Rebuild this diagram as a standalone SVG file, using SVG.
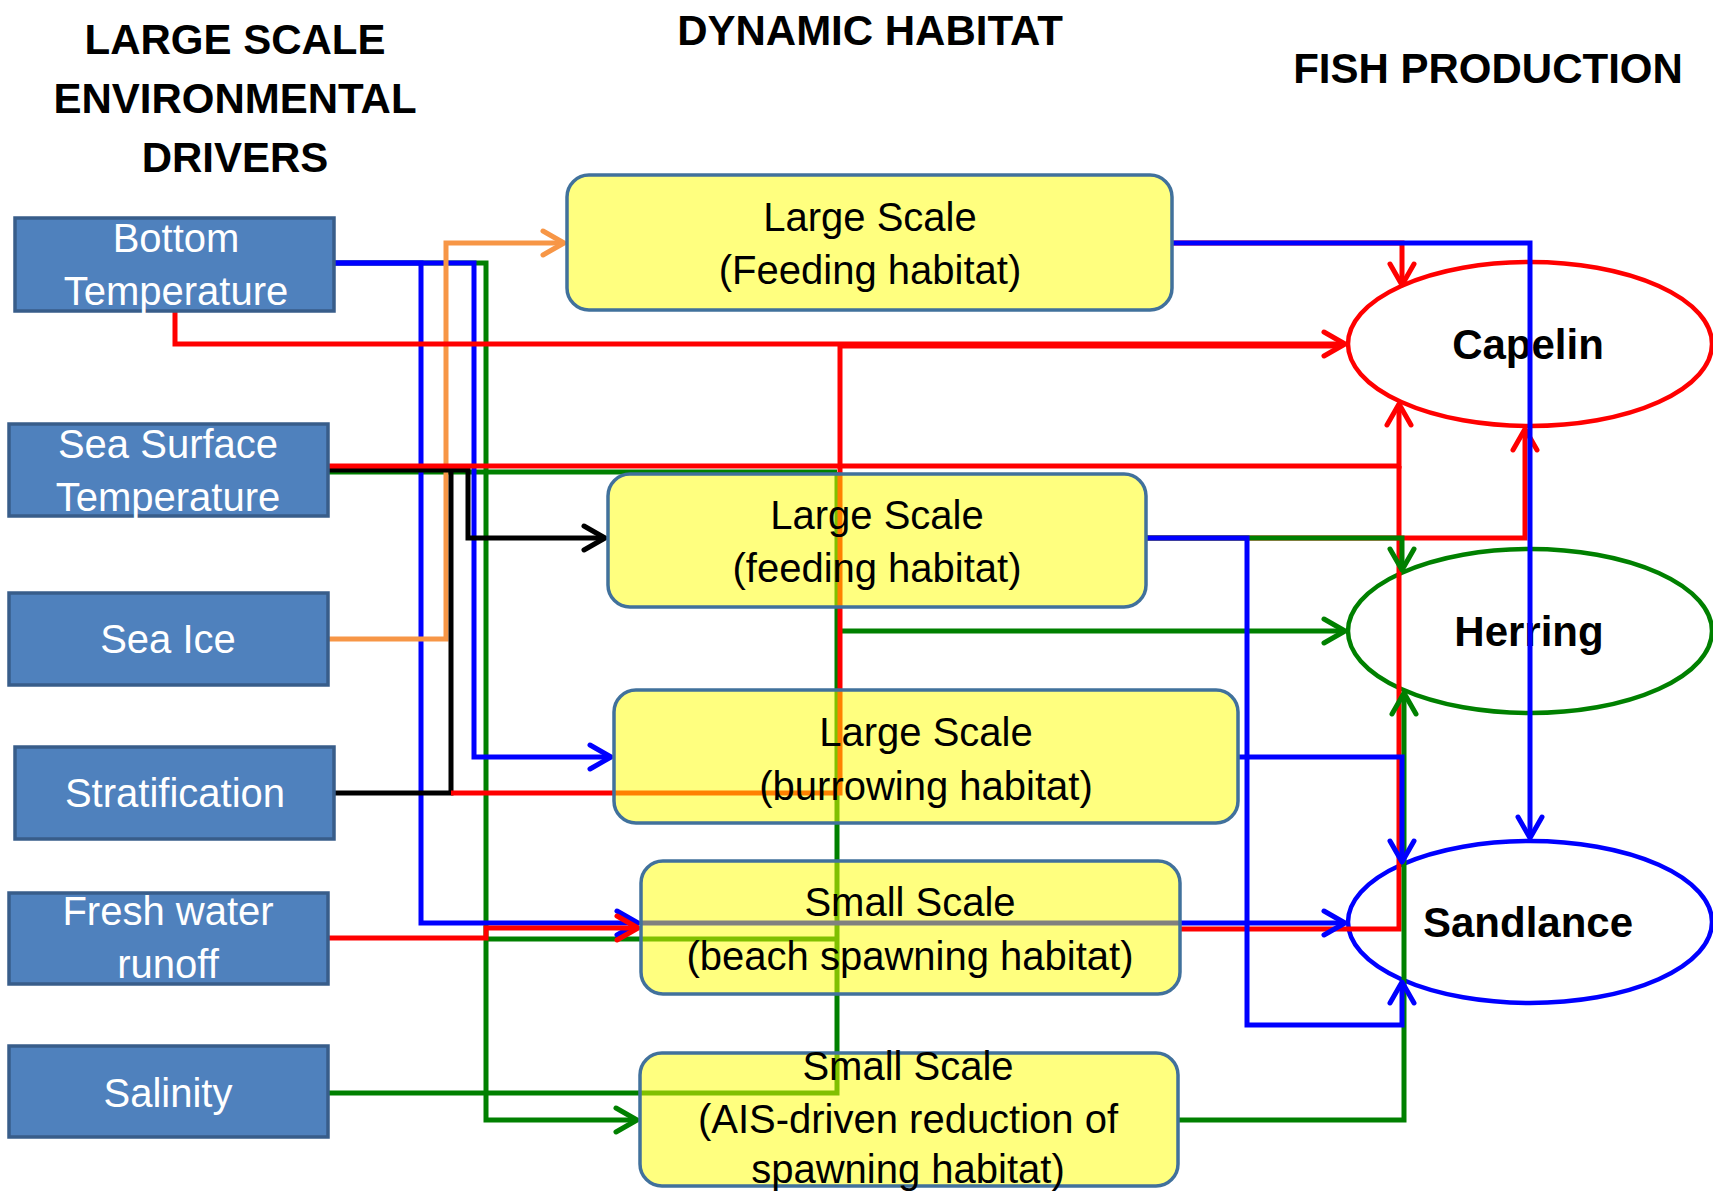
<svg xmlns="http://www.w3.org/2000/svg" width="1713" height="1192" viewBox="0 0 1713 1192">
<style>
  .title { font-family: "Liberation Sans", Arial, sans-serif; font-weight: bold; font-size: 42px; fill: #000; text-anchor: middle; }
  .drv rect { fill: #4F81BD; stroke: #385D8A; stroke-width: 3.5; }
  .drv text { font-family: "Liberation Sans", Arial, sans-serif; font-size: 40px; fill: #fff; text-anchor: middle; }
  .hab rect { fill: #FFFF00; fill-opacity: 0.5; stroke: #41719C; stroke-width: 3.5; }
  .hab text { font-family: "Liberation Sans", Arial, sans-serif; font-size: 40px; fill: #000; text-anchor: middle; }
  .fish ellipse { fill: none; stroke-width: 4.5; }
  .fish text { font-family: "Liberation Sans", Arial, sans-serif; font-weight: bold; font-size: 42px; fill: #000; text-anchor: middle; }
  #connectors path { fill: none; stroke-width: 5; stroke-linejoin: miter; }
  .r { stroke: #FF0000; } .b { stroke: #0000FF; } .g { stroke: #008000; } .k { stroke: #000000; } .o { stroke: #F79646; }
</style>
<defs>
  <marker id="ar" markerUnits="userSpaceOnUse" markerWidth="30" markerHeight="30" viewBox="0 0 30 30" refX="26" refY="15" orient="auto" overflow="visible"><path d="M5,3 L26,15 L5,27" fill="none" stroke="#FF0000" stroke-width="5" stroke-linecap="round" stroke-linejoin="round"/></marker>
  <marker id="ab" markerUnits="userSpaceOnUse" markerWidth="30" markerHeight="30" viewBox="0 0 30 30" refX="26" refY="15" orient="auto" overflow="visible"><path d="M5,3 L26,15 L5,27" fill="none" stroke="#0000FF" stroke-width="5" stroke-linecap="round" stroke-linejoin="round"/></marker>
  <marker id="ag" markerUnits="userSpaceOnUse" markerWidth="30" markerHeight="30" viewBox="0 0 30 30" refX="26" refY="15" orient="auto" overflow="visible"><path d="M5,3 L26,15 L5,27" fill="none" stroke="#008000" stroke-width="5" stroke-linecap="round" stroke-linejoin="round"/></marker>
  <marker id="ak" markerUnits="userSpaceOnUse" markerWidth="30" markerHeight="30" viewBox="0 0 30 30" refX="26" refY="15" orient="auto" overflow="visible"><path d="M5,3 L26,15 L5,27" fill="none" stroke="#000000" stroke-width="5" stroke-linecap="round" stroke-linejoin="round"/></marker>
  <marker id="ao" markerUnits="userSpaceOnUse" markerWidth="30" markerHeight="30" viewBox="0 0 30 30" refX="26" refY="15" orient="auto" overflow="visible"><path d="M5,3 L26,15 L5,27" fill="none" stroke="#F79646" stroke-width="5" stroke-linecap="round" stroke-linejoin="round"/></marker>
</defs>
<rect width="1713" height="1192" fill="#fff"/>

<g id="titles">
  <text class="title" x="235" y="54" font-size="40">LARGE SCALE</text>
  <text class="title" x="235" y="113">ENVIRONMENTAL</text>
  <text class="title" x="235" y="172">DRIVERS</text>
  <text class="title" x="870" y="45">DYNAMIC HABITAT</text>
  <text class="title" x="1488" y="83">FISH PRODUCTION</text>
</g>

<g id="capelin" class="fish"><ellipse cx="1530" cy="344" rx="182" ry="82" stroke="#FF0000"/><text x="1528" y="359">Capelin</text></g>
<g id="herring" class="fish"><ellipse cx="1530" cy="631" rx="182" ry="82" stroke="#008000"/><text x="1529" y="646">Herring</text></g>
<g id="sandlance" class="fish"><ellipse cx="1530" cy="922" rx="182" ry="81" stroke="#0000FF"/><text x="1528" y="937">Sandlance</text></g>

<g id="connectors">
  <path class="g" d="M334,263 H486 V1120 H637" marker-end="url(#ag)"/>
  <path class="g" d="M328,472 H837"/>
  <path class="g" d="M486,939 H837"/>
  <path class="g" d="M328,1093 H837 V472"/>
  <path class="g" d="M837,631 H1345" marker-end="url(#ag)"/>
  <path class="b" d="M334,263 H421 V923 H638" marker-end="url(#ab)"/>
  <path class="b" d="M334,263 H474 V757 H611" marker-end="url(#ab)"/>
  <path class="o" d="M328,639 H446 V243 H564" marker-end="url(#ao)"/>
  <path class="k" d="M328,470 H468 V538 H605" marker-end="url(#ak)"/>
  <path class="k" d="M334,793 H451 V470"/>
  <path class="r" d="M175,311 V344 H1345" marker-end="url(#ar)"/>
  <path class="r" d="M451,793 H840 V346 H1336"/>
  <path class="r" d="M328,466 H1399 V404" marker-end="url(#ar)"/>
  <path class="r" d="M328,938 H486 V928 H638" marker-end="url(#ar)"/>
  <path class="r" d="M1180,929 H1399 V466"/>
  <path class="r" d="M1172,243 H1402 V285" marker-end="url(#ar)"/>
  <path class="r" d="M1146,538 H1525 V429" marker-end="url(#ar)"/>
  <path class="g" d="M1178,1120 H1404 V693" marker-end="url(#ag)"/>
  <path class="g" d="M1146,538 H1402 V570" marker-end="url(#ag)"/>
  <path class="b" d="M1172,243 H1530 V838" marker-end="url(#ab)"/>
  <path class="b" d="M1146,538 H1247 V1025 H1402 V982" marker-end="url(#ab)"/>
  <path class="b" d="M1238,757 H1402 V862" marker-end="url(#ab)"/>
  <path class="b" d="M641,923 H1345" marker-end="url(#ab)"/>
</g>

<g id="bottom-temperature" class="drv"><rect x="15" y="218" width="319" height="93"/><text x="176" y="252">Bottom</text><text x="176" y="305">Temperature</text></g>
<g id="sea-surface-temperature" class="drv"><rect x="9" y="424" width="319" height="92"/><text x="168" y="458">Sea Surface</text><text x="168" y="511">Temperature</text></g>
<g id="sea-ice" class="drv"><rect x="9" y="593" width="319" height="92"/><text x="168" y="653">Sea Ice</text></g>
<g id="stratification" class="drv"><rect x="15" y="747" width="319" height="92"/><text x="175" y="807">Stratification</text></g>
<g id="fresh-water-runoff" class="drv"><rect x="9" y="893" width="319" height="91"/><text x="168" y="925">Fresh water</text><text x="168" y="978">runoff</text></g>
<g id="salinity" class="drv"><rect x="9" y="1046" width="319" height="91"/><text x="168" y="1107">Salinity</text></g>

<g id="hab-feeding-1" class="hab"><rect x="567" y="175" width="605" height="135" rx="22"/><text x="870" y="231">Large Scale</text><text x="870" y="284">(Feeding habitat)</text></g>
<g id="hab-feeding-2" class="hab"><rect x="608" y="474" width="538" height="133" rx="22"/><text x="877" y="529">Large Scale</text><text x="877" y="582">(feeding habitat)</text></g>
<g id="hab-burrowing" class="hab"><rect x="614" y="690" width="624" height="133" rx="22"/><text x="926" y="746">Large Scale</text><text x="926" y="800">(burrowing habitat)</text></g>
<g id="hab-beach" class="hab"><rect x="641" y="861" width="539" height="133" rx="22"/><text x="910" y="916">Small Scale</text><text x="910" y="970">(beach spawning habitat)</text></g>
<g id="hab-ais" class="hab"><rect x="640" y="1053" width="538" height="133" rx="22"/><text x="908" y="1080">Small Scale</text><text x="908" y="1133">(AIS-driven reduction of</text><text x="908" y="1183">spawning habitat)</text></g>
</svg>
